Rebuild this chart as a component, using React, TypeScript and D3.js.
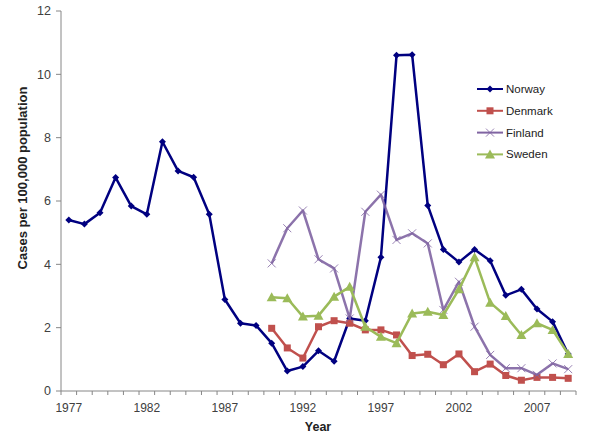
import React from "react";
import * as d3 from "d3";

const years: number[] = d3.range(1977, 2010);
const tickYears: number[] = [1977, 1982, 1987, 1992, 1997, 2002, 2007];
const yTicks: number[] = [0, 2, 4, 6, 8, 10, 12];

const norway: number[] = [5.4, 5.27, 5.63, 6.74, 5.84, 5.58, 7.87, 6.95, 6.75, 5.58, 2.89, 2.14, 2.07, 1.51, 0.63, 0.77, 1.27, 0.94, 2.29, 2.22, 4.22, 10.6, 10.62, 5.86, 4.47, 4.07, 4.47, 4.11, 3.02, 3.21, 2.59, 2.19, 1.17];
const laterYears: number[] = d3.range(1990, 2010);
const denmark: number[] = [1.98, 1.36, 1.04, 2.03, 2.22, 2.14, 1.93, 1.93, 1.77, 1.12, 1.16, 0.83, 1.17, 0.61, 0.85, 0.49, 0.34, 0.43, 0.43, 0.4];
const finland: number[] = [4.03, 5.14, 5.7, 4.16, 3.87, 2.29, 5.66, 6.2, 4.77, 4.98, 4.66, 2.56, 3.45, 2.03, 1.14, 0.72, 0.72, 0.51, 0.87, 0.69];
const sweden: number[] = [2.96, 2.93, 2.35, 2.38, 2.98, 3.29, 2.03, 1.71, 1.51, 2.45, 2.5, 2.4, 3.21, 4.22, 2.79, 2.37, 1.77, 2.14, 1.93, 1.17];

type Series = { name: string; color: string; marker: string; years: number[]; values: number[] };
const series: Series[] = [
  { name: "Norway", color: "#000080", marker: "diamond", years, values: norway },
  { name: "Denmark", color: "#C0504D", marker: "square", years: laterYears, values: denmark },
  { name: "Finland", color: "#8064A2", marker: "x", years: laterYears, values: finland },
  { name: "Sweden", color: "#9BBB59", marker: "triangle", years: laterYears, values: sweden },
];

const W = 600, H = 440;
const left = 61, right = 576, top = 11, bottom = 391;

function Marker({ type, x, y, color }: { type: string; x: number; y: number; color: string }) {
  if (type === "diamond") {
    const s = 3.5;
    return <path d={`M${x},${y - s}L${x + s},${y}L${x},${y + s}L${x - s},${y}Z`} fill={color} />;
  }
  if (type === "square") {
    const s = 3.5;
    return <rect x={x - s} y={y - s} width={2 * s} height={2 * s} fill={color} />;
  }
  if (type === "triangle") {
    const s = 5;
    return <path d={`M${x},${y - s}L${x + s},${y + s * 0.8}L${x - s},${y + s * 0.8}Z`} fill={color} />;
  }
  const s = 4;
  return <path d={`M${x - s},${y - s}L${x + s},${y + s}M${x - s},${y + s}L${x + s},${y - s}`} stroke={color} strokeWidth={1} opacity={0.8} />;
}

export default function App() {
  const x = d3.scaleBand<number>().domain(years).range([left, right]);
  const cx = (yr: number) => (x(yr) as number) + x.bandwidth() / 2;
  const y = d3.scaleLinear().domain([0, 12]).range([bottom, top]);
  const line = d3.line<[number, number]>().x(d => cx(d[0])).y(d => y(d[1]));
  const boundaries = years.map(yr => x(yr) as number).concat([right]);
  const font = "Arial, 'Liberation Sans', sans-serif";

  return (
    <svg width={W} height={H} style={{ position: "absolute", left: 0, top: 0, background: "#fff" }} fontFamily={font}>
      <rect x={0} y={0} width={W} height={H} fill="#fff" />
      {/* axes */}
      <line x1={left} y1={top} x2={left} y2={bottom} stroke="#868686" strokeWidth={1} />
      <line x1={left} y1={bottom} x2={right} y2={bottom} stroke="#868686" strokeWidth={1} />
      {yTicks.map(t => (
        <g key={t}>
          <line x1={left - 5} x2={left} y1={y(t)} y2={y(t)} stroke="#868686" />
          <text x={left - 10} y={y(t)} dy="0.35em" textAnchor="end" fontSize={12.5} fill="#404040">{t}</text>
        </g>
      ))}
      {boundaries.map((b, i) => (
        <line key={i} x1={b} x2={b} y1={bottom} y2={bottom + 4} stroke="#868686" />
      ))}
      {tickYears.map(t => (
        <text key={t} x={cx(t)} y={bottom + 21} textAnchor="middle" fontSize={12} fill="#404040">{t}</text>
      ))}
      <text x={318} y={431} textAnchor="middle" fontSize={12.5} fontWeight="bold" fill="#222">Year</text>
      <text transform={`translate(26.5,178) rotate(-90)`} textAnchor="middle" fontSize={13} fontWeight="bold" fill="#222">Cases per 100,000 population</text>
      {/* series */}
      {series.map(s => {
        const pts: [number, number][] = s.years.map((yr, i) => [yr, s.values[i]]);
        return (
          <g key={s.name}>
            <path d={line(pts) || ""} fill="none" stroke={s.color} strokeWidth={2.5} strokeLinejoin="round" opacity={s.marker === "x" ? 0.9 : 1} />
            {pts.map((p, i) => <Marker key={i} type={s.marker} x={cx(p[0])} y={y(p[1])} color={s.color} />)}
          </g>
        );
      })}
      {/* legend */}
      {series.map((s, i) => {
        const ly = 89 + i * 21.8;
        return (
          <g key={s.name}>
            <line x1={477} x2={503} y1={ly} y2={ly} stroke={s.color} strokeWidth={2} />
            <Marker type={s.marker} x={490} y={ly} color={s.color} />
            <text x={506} y={ly} dy="0.35em" fontSize={11.5} fill="#222">{s.name}</text>
          </g>
        );
      })}
    </svg>
  );
}
